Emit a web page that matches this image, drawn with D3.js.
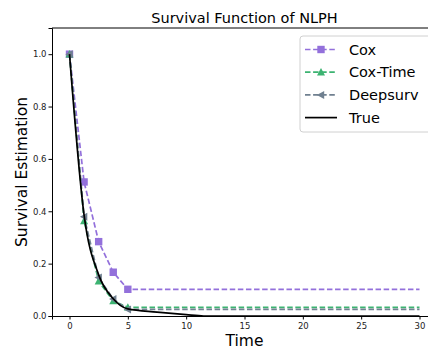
<!DOCTYPE html>
<html>
<head>
<meta charset="utf-8">
<script src="https://cdn.jsdelivr.net/npm/d3@7"></script>
<style>
body { margin: 0; background: #fff; }
text { font-family: "DejaVu Sans", sans-serif; }
</style>
</head>
<body>
<div id="chart"></div>
<script>
// data
var times = [0, 1.25, 2.5, 3.75, 5, 30];
var coxVals = [1.0, 0.512, 0.284, 0.167, 0.102, 0.102];
var coxTimeVals = [1.0, 0.363, 0.133, 0.057, 0.033, 0.033];
var deepsurvVals = [1.0, 0.379, 0.147, 0.065, 0.025, 0.025];
var trueTimes = [0, 1.25, 2.5, 3.75, 5, 7.5, 10, 11.5, 30];
var trueVals = [1.0, 0.385, 0.157, 0.066, 0.027, 0.015, 0.005, 0.0, 0.0];
var xTicks = [0, 5, 10, 15, 20, 25, 30];
var yTicks = [0.0, 0.2, 0.4, 0.6, 0.8, 1.0];

var series = [
    {name: "Cox", vals: coxVals, color: "#9370db", marker: "square"},
    {name: "Cox-Time", vals: coxTimeVals, color: "#3cb371", marker: "up"},
    {name: "Deepsurv", vals: deepsurvVals, color: "#708090", marker: "left"}
];

var W = 428, H = 349;
var margin = {top: 28, right: -9, bottom: 33, left: 52};
var width = W - margin.left - margin.right;
var height = H - margin.top - margin.bottom;

var svg = d3.select("#chart").append("svg")
    .attr("width", W)
    .attr("height", H);

var g = svg.append("g")
    .attr("transform", "translate(" + margin.left + "," + margin.top + ")");

var x = d3.scaleLinear().domain([-1.5, 31.5]).range([0, width]);
var y = d3.scaleLinear().domain([0, 1.1]).range([height, 0]);

// markers
function markerPath(type, cx, cy) {
    var s = 3.7;
    if (type == "square")
        return "M" + (cx - s) + "," + (cy - s) + "h" + (2 * s) + "v" + (2 * s) + "h" + (-2 * s) + "Z";
    if (type == "up")
        return "M" + cx + "," + (cy - s - 0.5) + "L" + (cx + s + 0.3) + "," + (cy + s - 0.5) + "L" + (cx - s - 0.3) + "," + (cy + s - 0.5) + "Z";
    return "M" + (cx - s - 0.5) + "," + cy + "L" + (cx + s - 0.5) + "," + (cy - s - 0.3) + "L" + (cx + s - 0.5) + "," + (cy + s + 0.3) + "Z";
}

var line = d3.line()
    .x(function(d) { return x(d[0]); })
    .y(function(d) { return y(d[1]); });

series.forEach(function(s) {
    var pts = times.map(function(t, i) { return [t, s.vals[i]]; });
    g.append("path")
        .attr("d", line(pts))
        .attr("fill", "none")
        .attr("stroke", s.color)
        .attr("stroke-width", 1.7)
        .attr("stroke-dasharray", "5.5,2.6");
    g.selectAll(null)
        .data(pts.slice(0, 5))
        .enter()
        .append("path")
        .attr("d", function(d) { return markerPath(s.marker, x(d[0]), y(d[1])); })
        .attr("fill", s.color);
});

var truePts = trueTimes.map(function(t, i) { return [t, trueVals[i]]; });
g.append("path")
    .attr("d", d3.line().curve(d3.curveMonotoneX)
        .x(function(d) { return x(d[0]); })
        .y(function(d) { return y(d[1]); })(truePts))
    .attr("fill", "none")
    .attr("stroke", "#000")
    .attr("stroke-width", 1.7);

// axes
var xAxis = d3.axisBottom(x).tickValues(xTicks).tickSize(3.5).tickPadding(3);
var yAxis = d3.axisLeft(y).tickValues(yTicks).tickSize(3.5).tickPadding(2)
    .tickFormat(d3.format(".1f"));

var gx = g.append("g")
    .attr("transform", "translate(0," + height + ")")
    .call(xAxis);
var gy = g.append("g").call(yAxis);
[gx, gy].forEach(function(a) {
    a.selectAll("text").attr("font-size", "8.5px").attr("fill", "#222")
        .style("font-family", "DejaVu Sans");
    a.select(".domain").attr("stroke", "#000").attr("stroke-width", 1);
});

// top spine
g.append("line")
    .attr("x1", 0).attr("x2", width)
    .attr("y1", 0).attr("y2", 0)
    .attr("stroke", "#000");

// title and labels
svg.append("text")
    .attr("x", margin.left + width / 2)
    .attr("y", 23)
    .attr("text-anchor", "middle")
    .attr("font-size", "14.5px")
    .text("Survival Function of NLPH");

svg.append("text")
    .attr("x", margin.left + width / 2)
    .attr("y", 346)
    .attr("text-anchor", "middle")
    .attr("font-size", "15.5px")
    .text("Time");

svg.append("text")
    .attr("transform", "translate(27," + (margin.top + height / 2) + ") rotate(-90)")
    .attr("text-anchor", "middle")
    .attr("font-size", "15.5px")
    .text("Survival Estimation");

// legend
var leg = svg.append("g").attr("transform", "translate(300,36)");
leg.append("rect")
    .attr("x", 0).attr("y", 0)
    .attr("width", 140).attr("height", 96)
    .attr("rx", 3)
    .attr("fill", "#fff")
    .attr("fill-opacity", 0.8)
    .attr("stroke", "#d0d0d0");

var items = series.concat([{name: "True", color: "#000"}]);
items.forEach(function(s, i) {
    var cy = 13.5 + i * 22.7;
    var l = leg.append("line")
        .attr("x1", 5).attr("x2", 37)
        .attr("y1", cy).attr("y2", cy)
        .attr("stroke", s.color)
        .attr("stroke-width", 1.7);
    if (s.marker) {
        l.attr("stroke-dasharray", "5.5,2.6");
        leg.append("path")
            .attr("d", markerPath(s.marker, 21, cy))
            .attr("fill", s.color);
    }
    leg.append("text")
        .attr("x", 49)
        .attr("y", cy + 5)
        .attr("font-size", "14.5px")
        .text(s.name);
});
</script>
</body>
</html>
